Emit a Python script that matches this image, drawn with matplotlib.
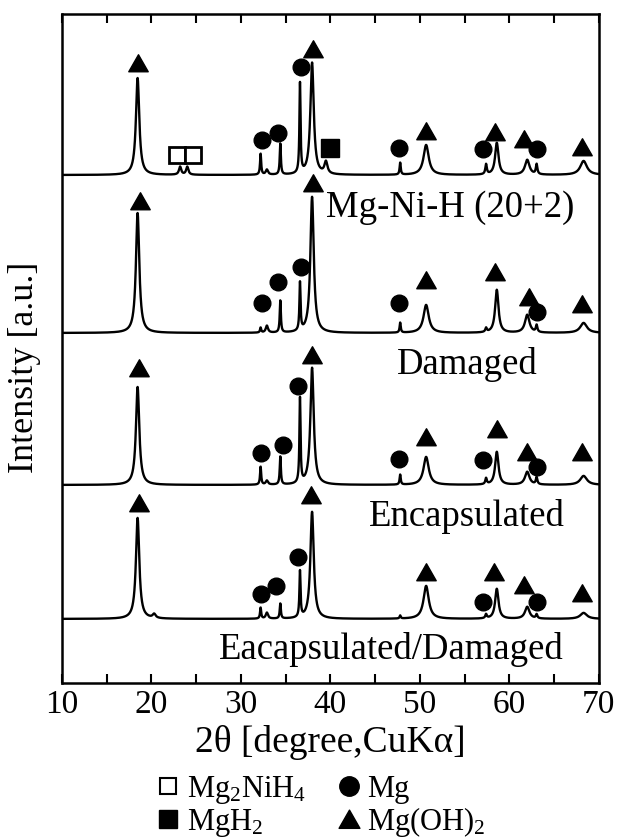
import numpy as np
import matplotlib
matplotlib.use("Agg")
import matplotlib.pyplot as plt
from matplotlib.lines import Line2D
from matplotlib.path import Path

plt.rcParams['font.family'] = ['Liberation Serif', 'DejaVu Serif']
plt.rcParams['mathtext.fontset'] = 'custom'
plt.rcParams['mathtext.rm'] = 'Liberation Serif'
plt.rcParams['mathtext.it'] = 'Liberation Serif:italic'

# ---- diffraction peaks (2theta, FWHM) shared by all patterns ----
peak_pos = [18.45, 20.3, 23.2, 24.0, 32.2, 32.9, 34.4, 36.6, 37.95, 39.5,
            47.8, 50.7, 57.4, 58.6, 62.0, 63.05, 68.3]
peak_fwhm = [0.45, 0.40, 0.30, 0.30, 0.15, 0.30, 0.15, 0.15, 0.45, 0.40,
             0.15, 0.70, 0.20, 0.45, 0.60, 0.20, 0.90]

# peak heights of each pattern
h_mgnih = [97, 0, 8, 8, 21, 5, 31, 90, 112, 12, 12, 30, 10, 32, 15, 10, 14]
h_damaged = [120, 0, 0, 0, 5, 7, 32, 48, 136, 0, 10, 28, 4, 43, 18, 7, 10]
h_encap = [98, 0, 0, 0, 18, 4, 28, 85, 117, 0, 10, 28, 6, 33, 13, 7, 9]
h_encap_dam = [101, 4, 0, 0, 11, 6, 15, 46, 107, 0, 3, 33, 4, 30, 12, 4, 6]

sample_names = ["Mg-Ni-H (20+2)", "Damaged", "Encapsulated", "Eacapsulated/Damaged"]
baselines = [508, 350, 198, 64]
label_x = [53.4, 55.3, 55.3, 46.8]
label_y = [475, 318, 166, 33]

# phase markers: 2theta and height above baseline, per pattern
tri_x = [[18.5, 38.1, 50.7, 58.4, 61.6, 68.1],
         [18.7, 38.1, 50.7, 58.4, 62.2, 68.1],
         [18.55, 37.9, 50.7, 58.6, 62.0, 68.1],
         [18.55, 37.8, 50.7, 58.3, 61.6, 68.1]]
tri_h = [[112, 126, 44, 43, 36, 28],
         [132, 150, 53, 61, 36, 29],
         [117, 130, 48, 56, 33, 33],
         [116, 124, 47, 47, 34, 26]]
circ_x = [[32.3, 34.1, 36.7, 47.7, 57.1, 63.1],
          [32.3, 34.1, 36.7, 47.7, 63.1],
          [32.2, 34.7, 36.4, 47.7, 57.1, 63.1],
          [32.2, 33.9, 36.4, 57.1, 63.1]]
circ_h = [[35, 42, 108, 27, 26, 26],
          [30, 51, 66, 30, 21],
          [32, 40, 99, 26, 25, 18],
          [25, 33, 62, 17, 17]]
mg2nih4_x = [22.8, 24.6]
mg2nih4_h = [20, 20]
mgh2_x = [39.95]
mgh2_h = [27]

heights = [h_mgnih, h_damaged, h_encap, h_encap_dam]

two_theta = np.linspace(10, 70, 4000)


def pattern(h):
    y = np.zeros_like(two_theta)
    for p, w, a in zip(peak_pos, peak_fwhm, h):
        g = w / 2.0
        y += a * g**2 / ((two_theta - p)**2 + g**2)
    return y


tri_marker = Path([(-1.0, -0.85), (1.0, -0.85), (0.0, 0.9), (-1.0, -0.85)],
                  [Path.MOVETO, Path.LINETO, Path.LINETO, Path.CLOSEPOLY])

fig = plt.figure(figsize=(6.17, 8.40), dpi=100)
ax = fig.add_axes([0.1005, 0.187, 0.870, 0.7963])

for i in range(4):
    base = baselines[i]
    ax.plot(two_theta, base + pattern(heights[i]), color='black', lw=1.7)
    ax.plot(tri_x[i], np.add(base, tri_h[i]), ls='none', marker=tri_marker,
            ms=14, color='black')
    ax.plot(circ_x[i], np.add(base, circ_h[i]), ls='none', marker='o',
            ms=12, color='black')
    ax.text(label_x[i], label_y[i], sample_names[i], fontsize=26.5,
            ha='center', va='center')

ax.plot(mg2nih4_x, np.add(baselines[0], mg2nih4_h), ls='none', marker='s',
        ms=11.5, mfc='white', mec='black', mew=2)
ax.plot(mgh2_x, np.add(baselines[0], mgh2_h), ls='none', marker='s',
        ms=12.5, color='black')

ax.set_xlim(10, 70)
ax.set_ylim(0, 669)
ax.set_xticks([10, 20, 30, 40, 50, 60, 70])
ax.set_xticks([15, 25, 35, 45, 55, 65], minor=True)
ax.set_yticks([])
ax.tick_params(axis='x', which='both', direction='in', top=True,
               length=6.5, width=1.5, labelsize=24, pad=5)
for s in ax.spines.values():
    s.set_linewidth(1.8)

ax.set_xlabel("2θ [degree,CuKα]", fontsize=27, labelpad=3)
ax.set_ylabel("Intensity [a.u.]", fontsize=26)
ax.yaxis.set_label_coords(-0.04, 0.471)

handles = [
    Line2D([], [], ls='none', marker='s', ms=12, mfc='white', mec='black', mew=1.5),
    Line2D([], [], ls='none', marker='s', ms=12.5, color='black'),
    Line2D([], [], ls='none', marker='o', ms=14, color='black'),
    Line2D([], [], ls='none', marker=tri_marker, ms=15, color='black'),
]
labels = ["Mg$_\\mathrm{2}$NiH$_\\mathrm{4}$", "MgH$_\\mathrm{2}$", "Mg",
          "Mg(OH)$_\\mathrm{2}$"]
fig.legend(handles, labels, ncol=2, frameon=False, fontsize=22,
           loc='center', bbox_to_anchor=(0.52, 0.040), handlelength=0.8,
           handletextpad=0.2, columnspacing=1.0, labelspacing=0.02,
           borderpad=0)

fig.savefig("out.png", dpi=100)
